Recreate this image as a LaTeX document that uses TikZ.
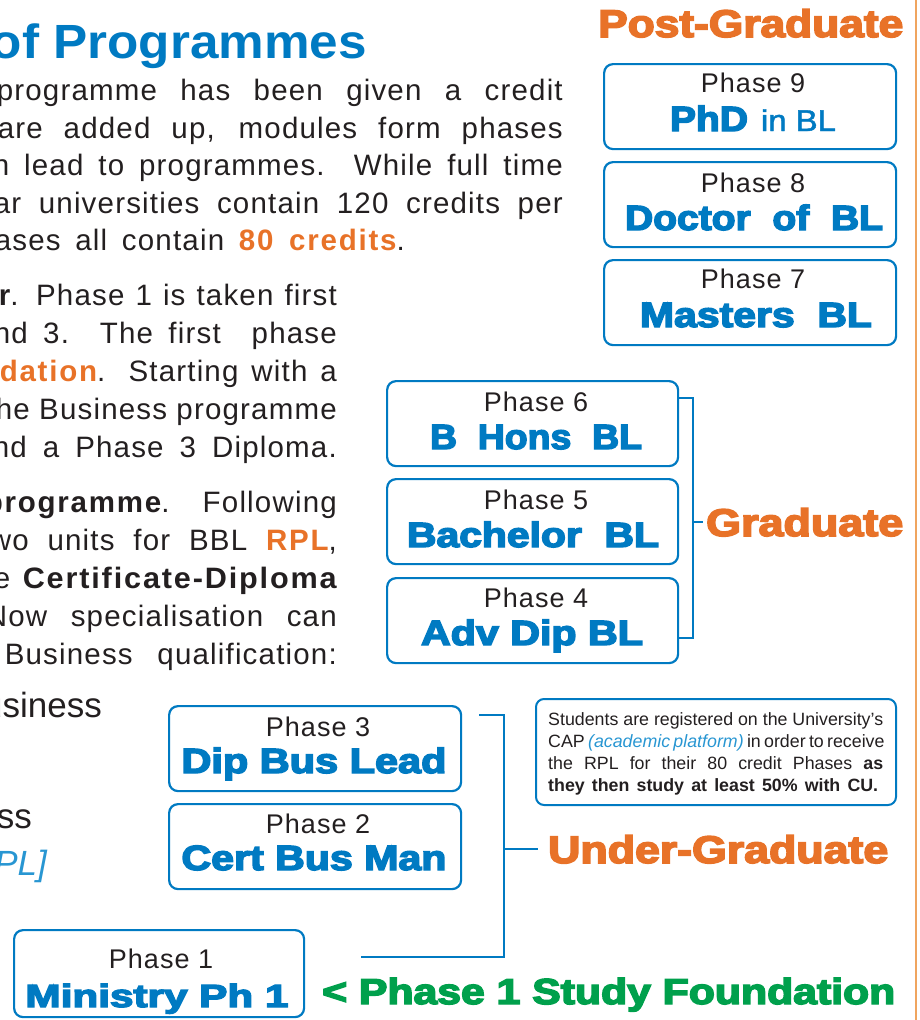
\documentclass[tikz,border=0pt]{standalone}
\usepackage{fontspec}
\usepackage{graphicx}
\setmainfont{Liberation Sans}
\newfontfamily\bodyfont{Liberation Sans}[LetterSpace=4, BoldFeatures={LetterSpace=6}]
\newfontfamily\heavyfont{Liberation Sans Bold}[FakeBold=4]
\newfontfamily\midfont{Liberation Sans}[FakeBold=1.5]
\usetikzlibrary{positioning}
\definecolor{plblue}{RGB}{0,122,194}
\definecolor{plnote}{RGB}{40,150,210}
\definecolor{plorange}{RGB}{232,114,40}
\definecolor{plgreen}{RGB}{0,160,76}
\definecolor{plink}{RGB}{35,31,32}
\definecolor{plrule}{RGB}{240,165,95}
% squeeze or stretch a label to a set width, keeping its height
\newcommand{\fitto}[2]{\resizebox{#1pt}{\height}{#2}}
\tikzset{
  phbox/.style={
    draw=plblue, line width=2.2pt, rounded corners=9pt, anchor=north west,
    inner sep=0pt, minimum width=292pt, minimum height=85pt
  },
  phnum/.style={anchor=base, inner sep=0pt, text=plink, font=\fontsize{27}{30}\bodyfont},
  phname/.style={anchor=base, inner sep=0pt, text=plblue, font=\fontsize{35}{40}\heavyfont},
  tier/.style={anchor=base west, inner sep=0pt, text=plorange, font=\fontsize{38.5}{44}\heavyfont},
  brk/.style={draw=plblue, line width=1.8pt},
  para/.style={
    anchor=north east, inner sep=0pt, align=right, text=plink,
    font=\fontsize{29.5}{38}\bodyfont
  },
  big/.style={anchor=base east, inner sep=0pt, text=plink, font=\fontsize{35}{40}\selectfont},
  notebox/.style={
    draw=plblue, line width=2pt, rounded corners=8pt, anchor=north west,
    inner sep=0pt, minimum width=360pt, minimum height=106pt
  },
  notetxt/.style={anchor=north west, inner sep=0pt, align=left, text=plink, font=\fontsize{17.8}{22}\selectfont},
  pagerule/.style={draw=plrule, line width=2.5pt}
}
\begin{document}
\begin{tikzpicture}[x=1pt, y=-1pt]
  \useasboundingbox (0,0) rectangle (919,1020);
  \clip (0,0) rectangle (919,1020);

  % column rule
  \draw[pagerule] (916,0) -- (916,1020);

  % heading and running text
  \node[anchor=base east, inner sep=0pt, text=plblue, font=\fontsize{48}{50}\bfseries] (head) at (367,58) {\fitto{376}{of Programmes}};
  \node[para, font=\fontsize{29.5}{37.6}\bodyfont] (para1) at (563,79) {%
    \makebox[566pt][s]{programme has been given a credit}\\
    \makebox[565pt][s]{are added up, modules form phases}\\
    \makebox[570pt][s]{n lead to programmes. While full time}\\
    \makebox[569pt][s]{ar universities contain 120 credits per}\\
    \makebox[410pt][s]{ases all contain {\bfseries\color{plorange}80 credits}.}\hspace*{158pt}};
  \node[para] (para2) at (337,284) {%
    \makebox[338pt][s]{{\bfseries r}. Phase 1 is taken first}\\
    \makebox[343pt][s]{nd 3. The first\ \ phase}\\
    \makebox[337pt][s]{{\bfseries\color{plorange}dation}. Starting with a}\\
    \makebox[341pt][s]{he Business programme}\\
    \makebox[344pt][s]{nd a Phase 3 Diploma.}};
  \node[para] (para3) at (337,491) {%
    \makebox[352pt][s]{{\bfseries programme}. Following}\\
    \makebox[347pt][s]{wo units for BBL {\bfseries\color{plorange}RPL},}\\
    \makebox[343pt][s]{e {\bfseries\fitto{314}{Certificate-Diploma}}}\\
    \makebox[351pt][s]{Now specialisation can}\\
    \makebox[332pt][s]{Business qualification:}};
  \node[big] (bus1) at (102,717) {Business};
  \node[big] (bus2) at (32,828) {Business};
  \node[big, text=plnote] (rpl) at (47,875) {\itshape [RPL]};

  % post-graduate phases
  \node[tier] (postgrad) at (598,37) {\fitto{305}{Post-Graduate}};
  \node[phbox] (ph9) at (603,63) {};
  \node[phnum] (ph9n) at (753,92) {Phase 9};
  \node[phname] (ph9t) at (753,131) {\fitto{78}{PhD}\hspace{13pt}\fitto{75}{\midfont\fontsize{30}{30}\selectfont in BL}};
  \node[phbox] (ph8) at (603,161) {};
  \node[phnum] (ph8n) at (753,192) {Phase 8};
  \node[phname] (ph8t) at (754,230) {\fitto{258}{Doctor\ \ of\ \ BL}};
  \node[phbox] (ph7) at (603,259) {};
  \node[phnum] (ph7n) at (753,288) {Phase 7};
  \node[phname] (ph7t) at (756,327) {\fitto{232}{Masters\ \ BL}};

  % graduate phases
  \node[phbox, minimum width=291pt] (ph6) at (386,380) {};
  \node[phnum] (ph6n) at (536,411) {Phase 6};
  \node[phname] (ph6t) at (536,449) {\fitto{212}{B\ \ Hons\ \ BL}};
  \node[phbox, minimum width=291pt] (ph5) at (386,478) {};
  \node[phnum] (ph5n) at (536,509) {Phase 5};
  \node[phname] (ph5t) at (533,547) {\fitto{252}{Bachelor\ \ BL}};
  \node[phbox, minimum width=291pt] (ph4) at (386,577) {};
  \node[phnum] (ph4n) at (536,607) {Phase 4};
  \node[phname] (ph4t) at (532,645) {\fitto{222}{Adv Dip BL}};
  \node[tier] (grad) at (706,536) {\fitto{197}{Graduate}};
  \coordinate (gtop) at (693,398);
  \coordinate (gbot) at (693,638);
  \draw[brk] (ph6.east |- gtop) -- (gtop) -- (gbot) -- (ph4.east |- gbot);
  \draw[brk] (gtop |- grad.west) -- ([xshift=-3pt]grad.west);

  % under-graduate phases
  \node[phbox] (ph3) at (168,705) {};
  \node[phnum] (ph3n) at (318,736) {Phase 3};
  \node[phname] (ph3t) at (314,773) {\fitto{265}{Dip Bus Lead}};
  \node[phbox] (ph2) at (168,803) {};
  \node[phnum] (ph2n) at (318,833) {Phase 2};
  \node[phname] (ph2t) at (314,870) {\fitto{265}{Cert Bus Man}};
  \node[phbox, minimum width=290pt, minimum height=87pt] (ph1) at (13,929) {};
  \node[phnum] (ph1n) at (161,968) {Phase 1};
  \node[phname, font=\fontsize{32}{36}\heavyfont] (ph1t) at (157,1007) {\fitto{263}{Ministry Ph 1}};
  \node[tier] (ugrad) at (548,863) {\fitto{340}{Under-Graduate}};
  \coordinate (utop) at (504,715);
  \coordinate (ubot) at (504,957);
  \draw[brk] ([xshift=17pt]ph3.east |- utop) -- (utop) -- (ubot) -- ([xshift=56pt]ph1.east |- ubot);
  \draw[brk] (utop |- ugrad.west) -- ([xshift=-10pt]ugrad.west);
  \node[tier, text=plgreen, font=\fontsize{36}{40}\heavyfont] (found) at (322,1004) {\fitto{573}{< Phase 1 Study Foundation}};

  % registration note
  \node[notebox] (note) at (535,698) {};
  \node[notetxt] (notetext) at (548,712) {%
    \makebox[335pt][s]{Students are registered on the University's}\\
    \makebox[335pt][s]{CAP {\itshape\color{plnote}(academic platform)} in order to receive}\\
    \makebox[335pt][s]{the RPL for their 80 credit Phases {\bfseries as}}\\
    \makebox[330pt][s]{\bfseries they then study at least 50\% with CU.}};
\end{tikzpicture}
\end{document}
